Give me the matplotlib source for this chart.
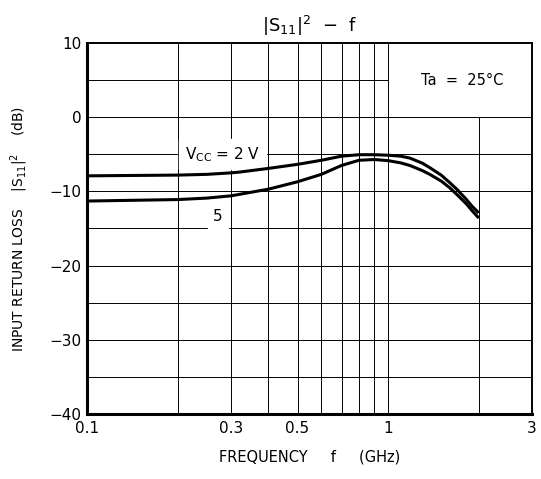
import numpy as np
import matplotlib
matplotlib.use("Agg")
import matplotlib.pyplot as plt

plt.rcParams['font.family'] = ['DejaVu Sans']
plt.rcParams['mathtext.fontset'] = 'dejavusans'

# curve data (GHz, dB)
f_2v = [0.1, 0.2, 0.25, 0.3, 0.32, 0.4, 0.5, 0.6, 0.7, 0.8, 0.9, 1.0,
        1.1, 1.18, 1.3, 1.375, 1.5, 1.6, 1.7, 1.82, 1.9, 2.0]
s11_2v = [-7.9, -7.8, -7.7, -7.5, -7.4, -6.9, -6.35, -5.8, -5.25, -5.05, -5.05, -5.12,
          -5.25, -5.5, -6.2, -6.8, -7.8, -8.8, -9.8, -11.1, -12.0, -12.9]
f_5v = [0.1, 0.2, 0.25, 0.3, 0.32, 0.4, 0.5, 0.6, 0.7, 0.8, 0.9, 1.0,
        1.1, 1.18, 1.3, 1.375, 1.5, 1.6, 1.7, 1.82, 1.9, 2.0]
s11_5v = [-11.3, -11.1, -10.9, -10.6, -10.4, -9.7, -8.7, -7.7, -6.5, -5.8, -5.7, -5.85,
          -6.15, -6.5, -7.2, -7.7, -8.6, -9.5, -10.5, -11.7, -12.6, -13.6]

xticks = [0.1, 0.3, 0.5, 1, 3]
xticklabels = ['0.1', '0.3', '0.5', '1', '3']
yticks = [10, 0, -10, -20, -30, -40]
yticklabels = ['10', '0', '\u221210', '\u221220', '\u221230', '\u221240']

fig = plt.figure(figsize=(5.41, 4.79), dpi=100)
ax = fig.add_axes([0.161, 0.136, 0.822, 0.774])
ax.set_xscale('log')
ax.set_xlim(0.1, 3)
ax.set_ylim(-40, 10)

# grid (the upper right corner is left open for the Ta box)
gkw = dict(color='black', lw=0.7, zorder=1)
for x in [0.2, 0.3, 0.4, 0.5, 0.6, 0.7, 0.8, 0.9, 1.0]:
    ax.vlines(x, -40, 10, **gkw)
ax.vlines(2.0, -40, 0, **gkw)
for y in [-35, -30, -25, -20, -15, -10, -5, 0]:
    ax.hlines(y, 0.1, 3, **gkw)
ax.hlines(5, 0.1, 1.0, **gkw)

ax.plot(f_2v, s11_2v, color='black', lw=2.2, zorder=3, solid_capstyle='butt')
ax.plot(f_5v, s11_5v, color='black', lw=2.2, zorder=3, solid_capstyle='butt')

ax.text(0.211, -5.0, r'V$_{\mathrm{CC}}$ = 2 V', fontsize=11, ha='left', va='center',
        backgroundcolor='white', zorder=2)
ax.text(0.262, -13.4, '5', fontsize=11, ha='left', va='center',
        backgroundcolor='white', zorder=2)
ax.text(1.29, 5.0, 'Ta  =  25\u00b0C', fontsize=10.5, ha='left', va='center')

ax.set_xticks(xticks)
ax.set_xticklabels(xticklabels, fontsize=11)
ax.xaxis.set_minor_locator(matplotlib.ticker.NullLocator())
ax.set_yticks(yticks)
ax.set_yticklabels(yticklabels, fontsize=11)
ax.tick_params(length=0)
ax.tick_params(axis='x', pad=5)
ax.tick_params(axis='y', pad=4)

for s in ax.spines.values():
    s.set_linewidth(1.4)
ax.spines['left'].set_linewidth(2.2)
ax.spines['bottom'].set_linewidth(2.2)

ax.set_title(r'$|\mathrm{S}_{11}|^2$  $-$  f', fontsize=13, pad=8)
ax.set_xlabel('FREQUENCY     f     (GHz)', fontsize=10.5, labelpad=10)
ax.set_ylabel(r'INPUT RETURN LOSS    $|\mathrm{S}_{11}|^2$    (dB)', fontsize=10, labelpad=14)

fig.savefig('out.png', dpi=100)
